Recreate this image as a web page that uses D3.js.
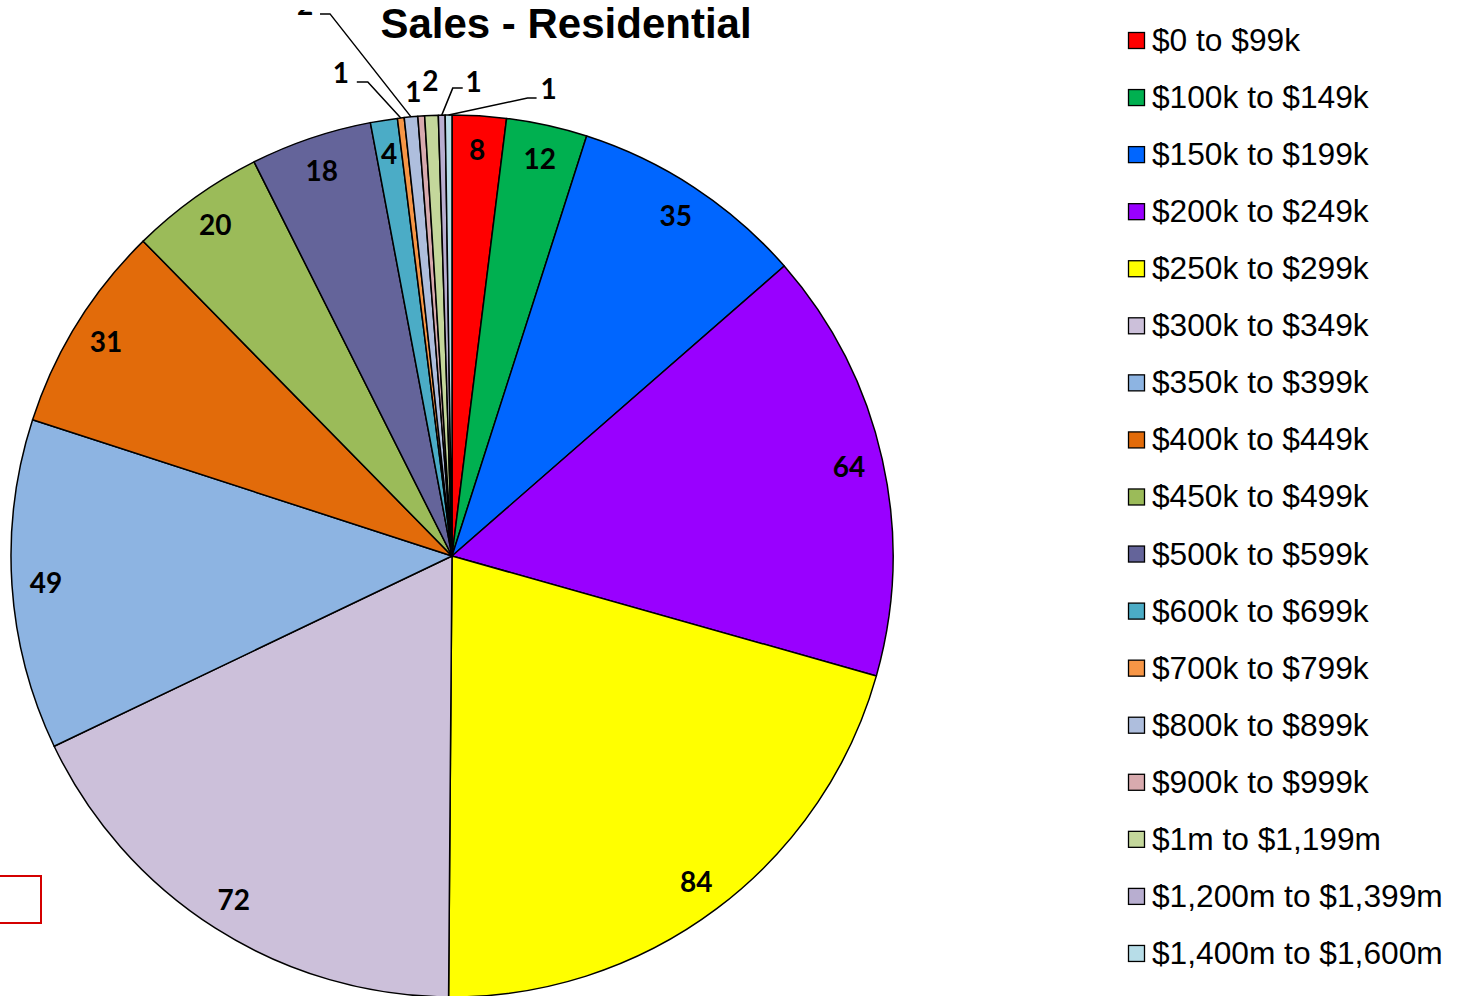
<!DOCTYPE html>
<html>
<head>
<meta charset="utf-8">
<script src="https://cdn.jsdelivr.net/npm/d3@7/dist/d3.min.js"></script>
<style>
  html, body { margin: 0; padding: 0; background: #fff; overflow: hidden; }
  svg { display: block; }
</style>
</head>
<body>
<div id="chart"></div>
<script>
// price bands, in legend order
const categories = [
  "$0 to $99k", "$100k to $149k", "$150k to $199k", "$200k to $249k",
  "$250k to $299k", "$300k to $349k", "$350k to $399k", "$400k to $449k",
  "$450k to $499k", "$500k to $599k", "$600k to $699k", "$700k to $799k",
  "$800k to $899k", "$900k to $999k", "$1m to $1,199m", "$1,200m to $1,399m",
  "$1,400m to $1,600m"
]
const sales = [8, 12, 35, 64, 84, 72, 49, 31, 20, 18, 4, 1, 2, 1, 2, 1, 1]

const COLORS = [
  "#ff0000", "#00b050", "#0066ff", "#9900ff", "#ffff00", "#ccc0da",
  "#8db4e2", "#e26b0a", "#9bbb59", "#64649a", "#4bacc6", "#f79646",
  "#aebedd", "#d8aaae", "#c4d79b", "#b8aed0", "#b7dde8"
]

const W = 1460, H = 996
const CX = 452, CY = 556, R = 441
const LABEL_R = 407

// outside labels for the thin slices: label offset from rim point,
// and where the leader line elbows (null = no leader)
const OUTSIDE = {
  11: { dx: -60, dy: -45, elbow: [-33, -36], end: [-44, -36] },
  12: { dx: -106, dy: -112, elbow: [-81, -103], end: [-91, -103] },
  13: { dx: -8, dy: -24, elbow: null },
  14: { dx: -1, dy: -35, elbow: null },
  15: { dx: 32, dy: -33, elbow: [11, -27], end: [21, -27] },
  16: { dx: 100, dy: -26, elbow: [79, -17], end: [88, -17] }
}

const svg = d3.select("#chart").append("svg")
  .attr("width", W)
  .attr("height", H)

// the plot area clips labels that spill over its top edge
svg.append("defs").append("clipPath")
  .attr("id", "plot-clip")
  .append("rect")
  .attr("x", -CX)
  .attr("y", 10 - CY)
  .attr("width", W)
  .attr("height", H)

// title
svg.append("text")
  .attr("x", 566)
  .attr("y", 38)
  .attr("text-anchor", "middle")
  .attr("font-family", "Liberation Sans, Arial, sans-serif")
  .attr("font-weight", "bold")
  .attr("font-size", "42px")
  .attr("fill", "#000")
  .text("Sales - Residential")

const pie = d3.pie().sort(null).value(d => d)
const arcs = pie(sales)
const arc = d3.arc().innerRadius(0).outerRadius(R)

const g = svg.append("g").attr("transform", `translate(${CX},${CY})`)

g.selectAll("path.slice")
  .data(arcs)
  .join("path")
  .attr("class", "slice")
  .attr("d", arc)
  .attr("fill", (d, i) => COLORS[i])
  .attr("stroke", "#000")
  .attr("stroke-width", 1.5)
  .attr("stroke-linejoin", "round")

const labelFont = "Lato, Carlito, Calibri, sans-serif"
const labels = g.append("g").attr("clip-path", "url(#plot-clip)")

arcs.forEach((d, i) => {
  const mid = (d.startAngle + d.endAngle) / 2
  const o = OUTSIDE[i]
  if (!o) {
    labels.append("text")
      .attr("x", LABEL_R * Math.sin(mid))
      .attr("y", -LABEL_R * Math.cos(mid))
      .attr("dy", "0.36em")
      .attr("text-anchor", "middle")
      .attr("font-family", labelFont)
      .attr("font-weight", "bold")
      .attr("font-size", "28px")
      .attr("fill", "#000")
      .text(d.data)
    return
  }
  const rx = R * Math.sin(mid), ry = -R * Math.cos(mid)
  if (o.elbow) {
    labels.append("path")
      .attr("d", d3.line()([[rx, ry], [rx + o.elbow[0], ry + o.elbow[1]], [rx + o.end[0], ry + o.end[1]]]))
      .attr("fill", "none")
      .attr("stroke", "#000")
      .attr("stroke-width", 1.5)
  }
  labels.append("text")
    .attr("x", rx + o.dx)
    .attr("y", ry + o.dy)
    .attr("dy", "0.36em")
    .attr("text-anchor", "middle")
    .attr("font-family", labelFont)
    .attr("font-weight", "bold")
    .attr("font-size", "28px")
    .attr("fill", "#000")
    .text(d.data)
})

// legend
const legend = svg.append("g").attr("transform", "translate(1128, 40)")
const rowH = 57.06
categories.forEach((c, i) => {
  const row = legend.append("g").attr("transform", `translate(0, ${i * rowH})`)
  row.append("rect")
    .attr("x", 0.5)
    .attr("y", -7.5)
    .attr("width", 16)
    .attr("height", 16)
    .attr("fill", COLORS[i])
    .attr("stroke", "#000")
    .attr("stroke-width", 1.3)
  row.append("text")
    .attr("x", 24)
    .attr("y", 11)
    .attr("font-family", "Liberation Sans, Arial, sans-serif")
    .attr("font-size", "31.7px")
    .attr("fill", "#000")
    .text(c)
})

// stray text box outline at the lower left
svg.append("rect")
  .attr("x", -10)
  .attr("y", 876)
  .attr("width", 51)
  .attr("height", 47)
  .attr("fill", "none")
  .attr("stroke", "#d40000")
  .attr("stroke-width", 2)
</script>
</body>
</html>
